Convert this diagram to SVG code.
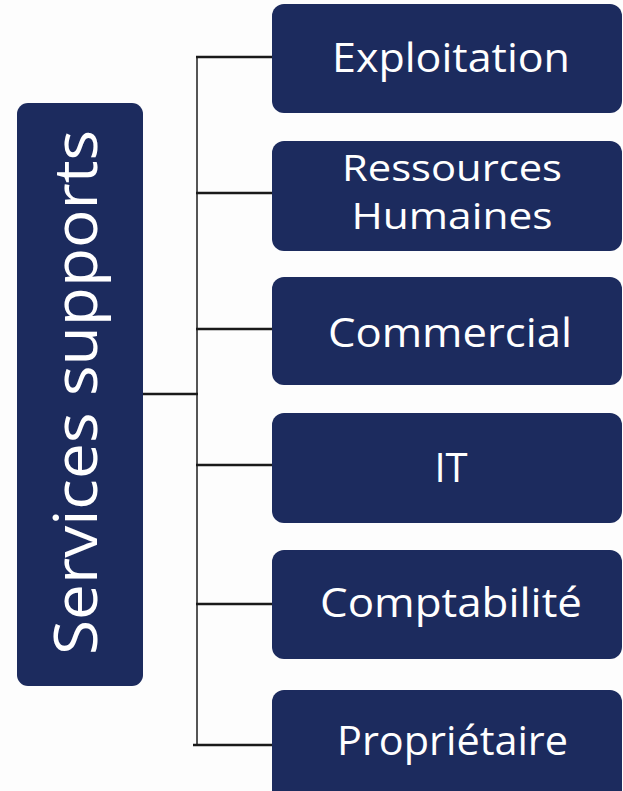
<svg xmlns="http://www.w3.org/2000/svg" width="623" height="791" viewBox="0 0 623 791">
<style>
.box{fill:#1c2b5e;}
.t{fill:#ffffff;font-family:"Open Sans","Liberation Sans",sans-serif;font-size:40px;text-anchor:middle;}
.t2{font-size:36px;}
.c{stroke:#1a1a1a;stroke-width:2.5;fill:none;}
</style>
<rect width="623" height="791" fill="#fdfdfd"/>
<g id="connectors">
<line class="c" x1="197" y1="56" x2="197" y2="745" style="stroke-width:2;stroke:#555"/>
<line class="c" x1="142" y1="394" x2="198" y2="394"/>
<line class="c" x1="196" y1="57" x2="273" y2="57"/>
<line class="c" x1="196" y1="193" x2="273" y2="193"/>
<line class="c" x1="196" y1="329" x2="273" y2="329"/>
<line class="c" x1="196" y1="465" x2="273" y2="465"/>
<line class="c" x1="196" y1="604" x2="273" y2="604"/>
<line class="c" x1="193" y1="745" x2="273" y2="745"/>
</g>
<g id="services">
<rect class="box" x="17" y="103" width="126" height="583" rx="11"/>
<text class="t" style="font-size:60px" transform="translate(97,392.5) rotate(-90)" textLength="525" lengthAdjust="spacingAndGlyphs">Services supports</text>
</g>
<g id="exploitation">
<rect class="box" x="272" y="4" width="350" height="109" rx="12"/>
<text class="t" x="451" y="72" textLength="238" lengthAdjust="spacingAndGlyphs">Exploitation</text>
</g>
<g id="rh">
<rect class="box" x="272" y="141" width="350" height="110" rx="12"/>
<text class="t t2" x="452" y="181" textLength="220" lengthAdjust="spacingAndGlyphs">Ressources</text>
<text class="t t2" x="452" y="229" textLength="201" lengthAdjust="spacingAndGlyphs">Humaines</text>
</g>
<g id="commercial">
<rect class="box" x="272" y="277" width="350" height="108" rx="12"/>
<text class="t" x="450" y="347" textLength="244" lengthAdjust="spacingAndGlyphs">Commercial</text>
</g>
<g id="it">
<rect class="box" x="272" y="413" width="350" height="110" rx="12"/>
<text class="t" x="451" y="482">IT</text>
</g>
<g id="comptabilite">
<rect class="box" x="272" y="550" width="350" height="109" rx="12"/>
<text class="t" x="451" y="617" textLength="262" lengthAdjust="spacingAndGlyphs">Comptabilité</text>
</g>
<g id="proprietaire">
<rect class="box" x="272" y="690" width="350" height="112" rx="12"/>
<text class="t" x="452.5" y="755" textLength="231" lengthAdjust="spacingAndGlyphs">Propriétaire</text>
</g>
</svg>
